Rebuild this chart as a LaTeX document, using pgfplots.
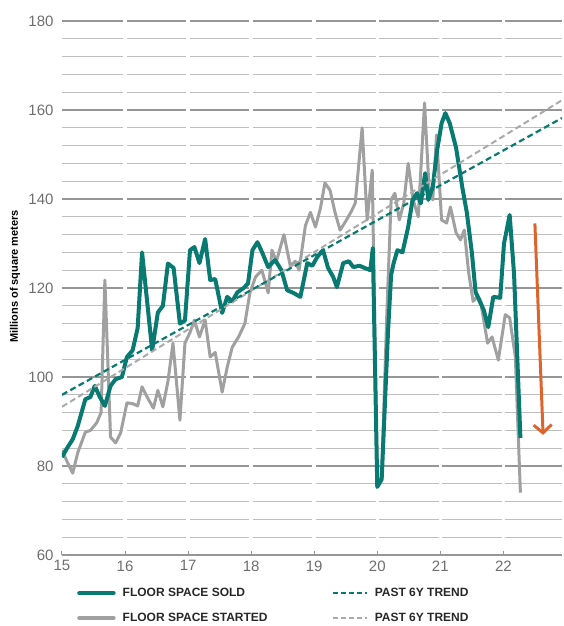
\documentclass[border=0pt]{standalone}
\usepackage{fontspec}
\setmainfont{Liberation Sans}
\usepackage{pgfplots}
\pgfplotsset{compat=1.18}
\usepackage{pgfplotstable}
\usetikzlibrary{arrows.meta}

\definecolor{sold}{RGB}{8,122,114}
\definecolor{started}{RGB}{160,160,160}
\definecolor{trendgray}{RGB}{170,170,170}
\definecolor{majgrid}{RGB}{150,150,150}
\definecolor{mingrid}{RGB}{190,190,190}
\definecolor{axisgray}{RGB}{150,150,150}
\definecolor{tickgray}{RGB}{110,110,110}
\definecolor{legtext}{RGB}{40,40,40}
\definecolor{arroworange}{RGB}{222,100,45}

% floor space sold, millions of m2
\pgfplotstableread{
x y
15.00 82
15.08 84
15.17 86
15.25 89
15.37 95
15.45 95.5
15.52 98
15.60 95.5
15.68 93.5
15.77 98
15.85 99.5
15.95 100
16.03 104.5
16.12 106
16.20 111
16.27 128
16.43 106
16.52 114.5
16.60 116
16.68 125.5
16.77 124.5
16.87 112
16.95 112.7
17.03 128.5
17.10 129.2
17.18 125.6
17.27 131
17.35 121.8
17.43 122
17.54 114.4
17.62 118
17.70 117
17.78 119
17.88 120
17.95 121
18.02 128.5
18.10 130.3
18.18 127.8
18.27 124.7
18.38 126.3
18.48 124
18.57 119.5
18.67 118.9
18.78 118
18.89 125.6
18.97 125
19.05 127
19.14 128.5
19.22 124.5
19.30 122.5
19.36 120.2
19.46 125.6
19.55 126
19.62 124.7
19.72 125
19.80 124.5
19.89 124
19.93 129
20.00 75.3
20.07 77
20.17 110
20.22 123
20.26 125.6
20.32 128.5
20.40 128
20.49 133.7
20.56 139.8
20.63 141.3
20.69 139
20.76 145.8
20.81 139.8
20.88 142.7
20.95 151
21.02 157
21.08 159.3
21.15 157
21.25 151.5
21.35 142.5
21.42 137
21.50 128
21.56 119
21.62 117.3
21.69 115
21.76 111.2
21.84 118
21.95 117.8
22.01 130
22.10 136.4
22.17 123
22.27 86.3
}\soldtable

% floor space started, millions of m2
\pgfplotstableread{
x y
15.00 83.6
15.08 81
15.17 78.4
15.25 83
15.37 87.6
15.45 88
15.55 89.7
15.62 92
15.68 121.8
15.77 86.5
15.85 85.2
15.93 87.4
16.03 94.2
16.12 94
16.20 93.5
16.27 97.8
16.35 95.5
16.45 93
16.52 97
16.60 93.3
16.68 99
16.76 107.6
16.87 90.3
16.95 107.6
17.03 110
17.10 112.8
17.18 109
17.27 112.8
17.35 104.5
17.43 105.5
17.54 96.6
17.62 102.2
17.70 106.7
17.80 109
17.90 112
17.98 118.9
18.07 122.5
18.17 124
18.27 118.9
18.33 128.5
18.40 126
18.52 132
18.62 125
18.70 126
18.76 124
18.86 134
18.94 137
19.02 133.7
19.10 138
19.17 143.6
19.25 142
19.33 137
19.41 133
19.50 135
19.58 137
19.65 139
19.76 156
19.84 135.3
19.92 146.5
20.00 76
20.07 77.5
20.15 113.5
20.22 139.8
20.28 141.3
20.35 135.3
20.42 139
20.49 148
20.57 139.8
20.65 136
20.75 161.6
20.82 142.7
20.88 139.8
20.94 154.4
21.02 135.3
21.10 134.6
21.16 138.2
21.25 132.4
21.32 130.8
21.38 133
21.45 123.4
21.52 117
21.58 118
21.65 116
21.75 107.6
21.82 109
21.92 103.8
22.03 114
22.10 113.3
22.19 104.5
22.27 74
}\startedtable

\begin{document}
\begin{tikzpicture}
\useasboundingbox (-62pt,-71pt) rectangle (501pt,555pt);
\begin{axis}[
  scale only axis, width=500pt, height=534pt,
  xmin=15, xmax=22.93, ymin=60, ymax=180,
  axis x line*=bottom, axis y line*=left,
  y axis line style={draw=none},
  x axis line style={draw=axisgray, line width=1.2pt, -},
  xtick={15,...,22}, ytick={60,80,...,180}, minor ytick={64,68,...,176},
  ymajorgrids, yminorgrids,
  major grid style={draw=majgrid, line width=1.3pt},
  minor grid style={draw=mingrid, line width=1.2pt},
  ytick style={draw=none},
  xtick style={draw=axisgray, line width=1pt},
  tick align=inside, major tick length=4pt, minor tick length=0pt,
  ticklabel style={font=\fontsize{15}{15}\selectfont, text=tickgray},
  /pgf/number format/assume math mode=true,
  xticklabel style={yshift=-2pt},
  yticklabel style={xshift=-5pt},
  ylabel={Millions of square meters},
  ylabel style={at={(axis description cs:-0.094,0.522)}, anchor=center, font=\bfseries\fontsize{11}{11}\selectfont},
  legend columns=2,
  legend cell align=left,
  legend image code/.code={\draw[#1] (0pt,0pt) -- (34pt,0pt);},
  legend style={at={(axis description cs:0.03,-0.058)}, anchor=north west, draw=none, fill=none,
    inner sep=0pt, row sep=11pt, column sep=5pt,
    font=\bfseries\fontsize{12}{12}\selectfont, text=legtext,
    /tikz/every even column/.append style={column sep=62pt}},
]
\addlegendimage{sold, line width=4.5pt, line cap=round}
\addlegendentry{FLOOR SPACE SOLD}
\addlegendimage{sold, line width=2.2pt, dash pattern=on 5pt off 3pt}
\addlegendentry{PAST 6Y TREND}
\addlegendimage{started, line width=4.5pt, line cap=round}
\addlegendentry{FLOOR SPACE STARTED}
\addlegendimage{trendgray, line width=2.2pt, dash pattern=on 5pt off 3pt}
\addlegendentry{PAST 6Y TREND}

% gaps in the grid at each year
\pgfplotsinvokeforeach{16,...,22}{
  \draw[white, line width=3.5pt] (axis cs:#1,61.2) -- (axis cs:#1,181);
}

\addplot[forget plot, started, line width=3pt, line join=round] table[x=x, y=y] {\startedtable};
\addplot[forget plot, sold, line width=4pt, line join=round] table[x=x, y=y] {\soldtable};
\addplot[forget plot, trendgray, line width=2pt, dash pattern=on 6pt off 3.5pt] coordinates {(15,93.3) (22.93,162.2)};
\addplot[forget plot, sold, line width=2.2pt, dash pattern=on 6pt off 3.5pt] coordinates {(15,96) (22.93,158.2)};

\draw[arroworange, line width=3pt, -{Straight Barb[length=8pt, width=18pt]}] (axis cs:22.5,134.5) -- (axis cs:22.63,87);
\end{axis}
\end{tikzpicture}
\end{document}
